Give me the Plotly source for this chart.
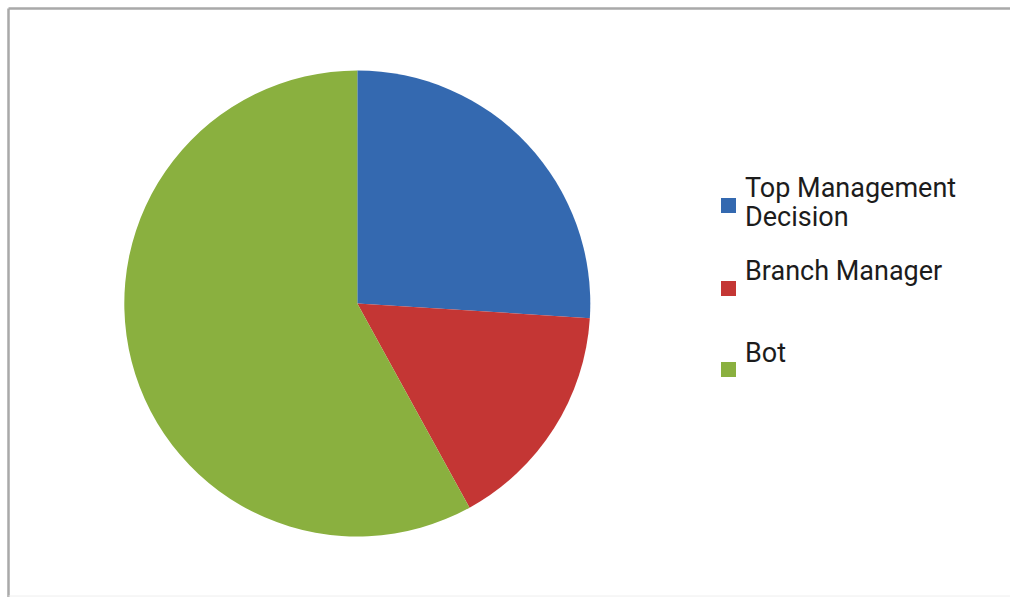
import plotly.graph_objects as go

W, H = 1010, 597

# Share of decisions by who makes them
labels = ["Top Management Decision", "Branch Manager", "Bot"]
values = [26, 16, 58]
colors = ["#3469b0", "#c43634", "#8ab03f"]
# Legend text, wrapped the way it is shown beside the pie
legend_lines = [["Top Management", "Decision"], ["Branch Manager"], ["Bot"]]


def px_x(x):
    return x / W


def px_y(y):
    return 1 - y / H


fig = go.Figure(
    go.Pie(
        labels=labels,
        values=values,
        sort=False,
        direction="clockwise",
        rotation=0,
        marker=dict(colors=colors, line=dict(width=0)),
        textinfo="none",
        hoverinfo="label+percent",
        showlegend=False,
        domain=dict(x=[px_x(124.3), px_x(590.3)], y=[px_y(536.5), px_y(70.5)]),
    )
)

# Hand-built legend: colour key plus wrapped label text
key_tops = [198, 281, 362]
text_tops = [170, 253, 335]
line_gap = 29
annotations = []
shapes = []
for i, lines in enumerate(legend_lines):
    shapes.append(
        dict(
            type="rect", xref="paper", yref="paper",
            x0=px_x(721), x1=px_x(736),
            y0=px_y(key_tops[i] + 15), y1=px_y(key_tops[i]),
            fillcolor=colors[i], line=dict(width=0),
        )
    )
    for j, line in enumerate(lines):
        annotations.append(
            dict(
                text=line, xref="paper", yref="paper",
                x=px_x(743), y=px_y(text_tops[i] + j * line_gap),
                xanchor="left", yanchor="top", showarrow=False,
                font=dict(family="Roboto", size=27, color="#1c1c1c"),
            )
        )

# Frame lines along the top and left edges, faint one at the bottom
shapes += [
    dict(type="line", xref="paper", yref="paper",
         x0=px_x(8.5), x1=1, y0=px_y(8.5), y1=px_y(8.5),
         line=dict(color="#a9a9a9", width=2.5)),
    dict(type="line", xref="paper", yref="paper",
         x0=px_x(8.5), x1=px_x(8.5), y0=px_y(8.5), y1=0,
         line=dict(color="#a9a9a9", width=2.5)),
    dict(type="line", xref="paper", yref="paper",
         x0=px_x(8.5), x1=1, y0=px_y(596), y1=px_y(596),
         line=dict(color="#eeeeee", width=1)),
]

fig.update_layout(
    width=W, height=H,
    margin=dict(l=0, r=0, t=0, b=0),
    paper_bgcolor="white",
    plot_bgcolor="white",
    annotations=annotations,
    shapes=shapes,
)

fig.write_html("out.html", config={"displayModeBar": False})
